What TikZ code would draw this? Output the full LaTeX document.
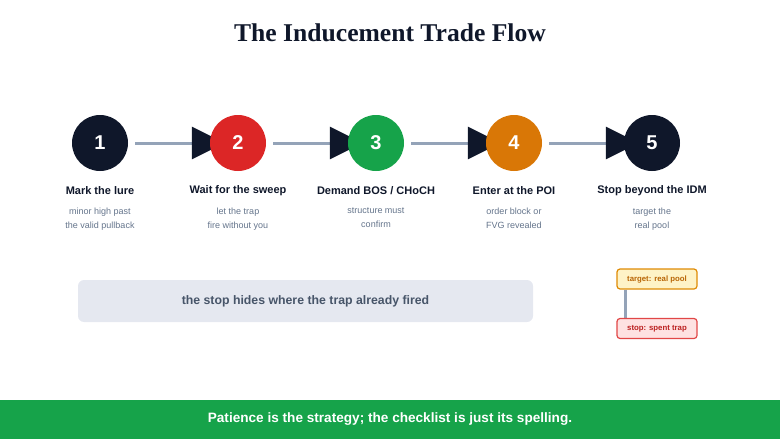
\documentclass[tikz,border=0pt]{standalone}
\usepackage{fontspec}
\setmainfont{Liberation Sans}
\newfontfamily\titlefont{Liberation Serif}
\usetikzlibrary{arrows.meta}
\definecolor{navy}{HTML}{0F172A}
\definecolor{cred}{HTML}{DC2626}
\definecolor{cgreen}{HTML}{16A34A}
\definecolor{corange}{HTML}{D97706}
\definecolor{linegray}{HTML}{94A3B8}
\definecolor{subgray}{HTML}{64748B}
\definecolor{boxgray}{HTML}{E5E8F0}
\definecolor{boxtext}{HTML}{475569}
\definecolor{tagyfill}{HTML}{FEF3C7}
\definecolor{tagrfill}{HTML}{FEE2E2}
\pgfdeclarelayer{bg}
\pgfsetlayers{bg,main}
\tikzset{
  stepcirc/.style={circle, minimum size=56pt, inner sep=0pt, text=white, font=\bfseries\fontsize{20}{20}\selectfont},
  steptitle/.style={text=navy, font=\bfseries\fontsize{11}{13}\selectfont, anchor=center},
  stepsub/.style={text=subgray, font=\fontsize{9}{14}\selectfont, align=center, anchor=north},
  conn/.style={draw=linegray, line width=3pt, -{Triangle[length=33pt,width=32pt,fill=navy,color=navy]}},
  tagbox/.style={rounded corners=3pt, line width=1.2pt, minimum width=80pt, minimum height=20pt, inner sep=0pt, font=\bfseries\fontsize{7.8}{9}\selectfont},
}
\begin{document}
\begin{tikzpicture}[x=1pt,y=1pt]
\useasboundingbox (0,0) rectangle (780,-439);
\node[text=navy, font=\titlefont\bfseries\fontsize{25.6}{30}\selectfont] (title) at (390,-33) {The Inducement Trade Flow};
% circles
\node[stepcirc, fill=navy] (c1) at (100,-143) {1};
\node[stepcirc, fill=cred] (c2) at (238,-143) {2};
\node[stepcirc, fill=cgreen] (c3) at (376,-143) {3};
\node[stepcirc, fill=corange] (c4) at (514,-143) {4};
\node[stepcirc, fill=navy] (c5) at (652,-143) {5};
\begin{pgfonlayer}{bg}
\foreach \a/\b in {c1/c2,c2/c3,c3/c4,c4/c5}{
  \draw[conn] ([xshift=7pt]\a.east) -- ([xshift=15pt]\b.west);
}
\end{pgfonlayer}
% labels
\node[steptitle] (t1) at (100,-190.5) {Mark the lure};
\node[steptitle] (t2) at (238,-190.5) {Wait for the sweep};
\node[steptitle] (t3) at (376,-190.5) {Demand BOS / CHoCH};
\node[steptitle] (t4) at (514,-190.5) {Enter at the POI};
\node[steptitle] (t5) at (652,-190.5) {Stop beyond the IDM};
\node[stepsub] (s1) at (100,-204) {minor high past\\the valid pullback};
\node[stepsub] (s2) at (238,-204) {let the trap\\fire without you};
\node[stepsub] (s3) at (376,-204) {structure must\\confirm};
\node[stepsub] (s4) at (514,-204) {order block or\\FVG revealed};
\node[stepsub] (s5) at (652,-204) {target the\\real pool};
% gray box
\node[fill=boxgray, rounded corners=6pt, minimum width=455pt, minimum height=42pt, inner sep=0pt, text=boxtext, font=\bfseries\fontsize{12.3}{14}\selectfont] (note) at (305.5,-301) {the stop hides where the trap already fired};
% tag boxes
\node[tagbox, draw=corange!85!yellow, fill=tagyfill, text=corange!85!black] (target) at (657,-279) {target: real pool};
\node[tagbox, draw=cred!85, fill=tagrfill, text=cred!85!black] (stop) at (657,-328.5) {stop: spent trap};
\begin{pgfonlayer}{bg}
\draw[draw=linegray, line width=2.5pt] ([xshift=9pt]target.south west) -- ([xshift=9pt]stop.north west);
\end{pgfonlayer}
% footer
\fill[cgreen] (0,-400) rectangle (780,-439);
\node[text=white, font=\bfseries\fontsize{13.6}{16}\selectfont] (footer) at (390,-419.5) {Patience is the strategy; the checklist is just its spelling.};
\end{tikzpicture}
\end{document}
